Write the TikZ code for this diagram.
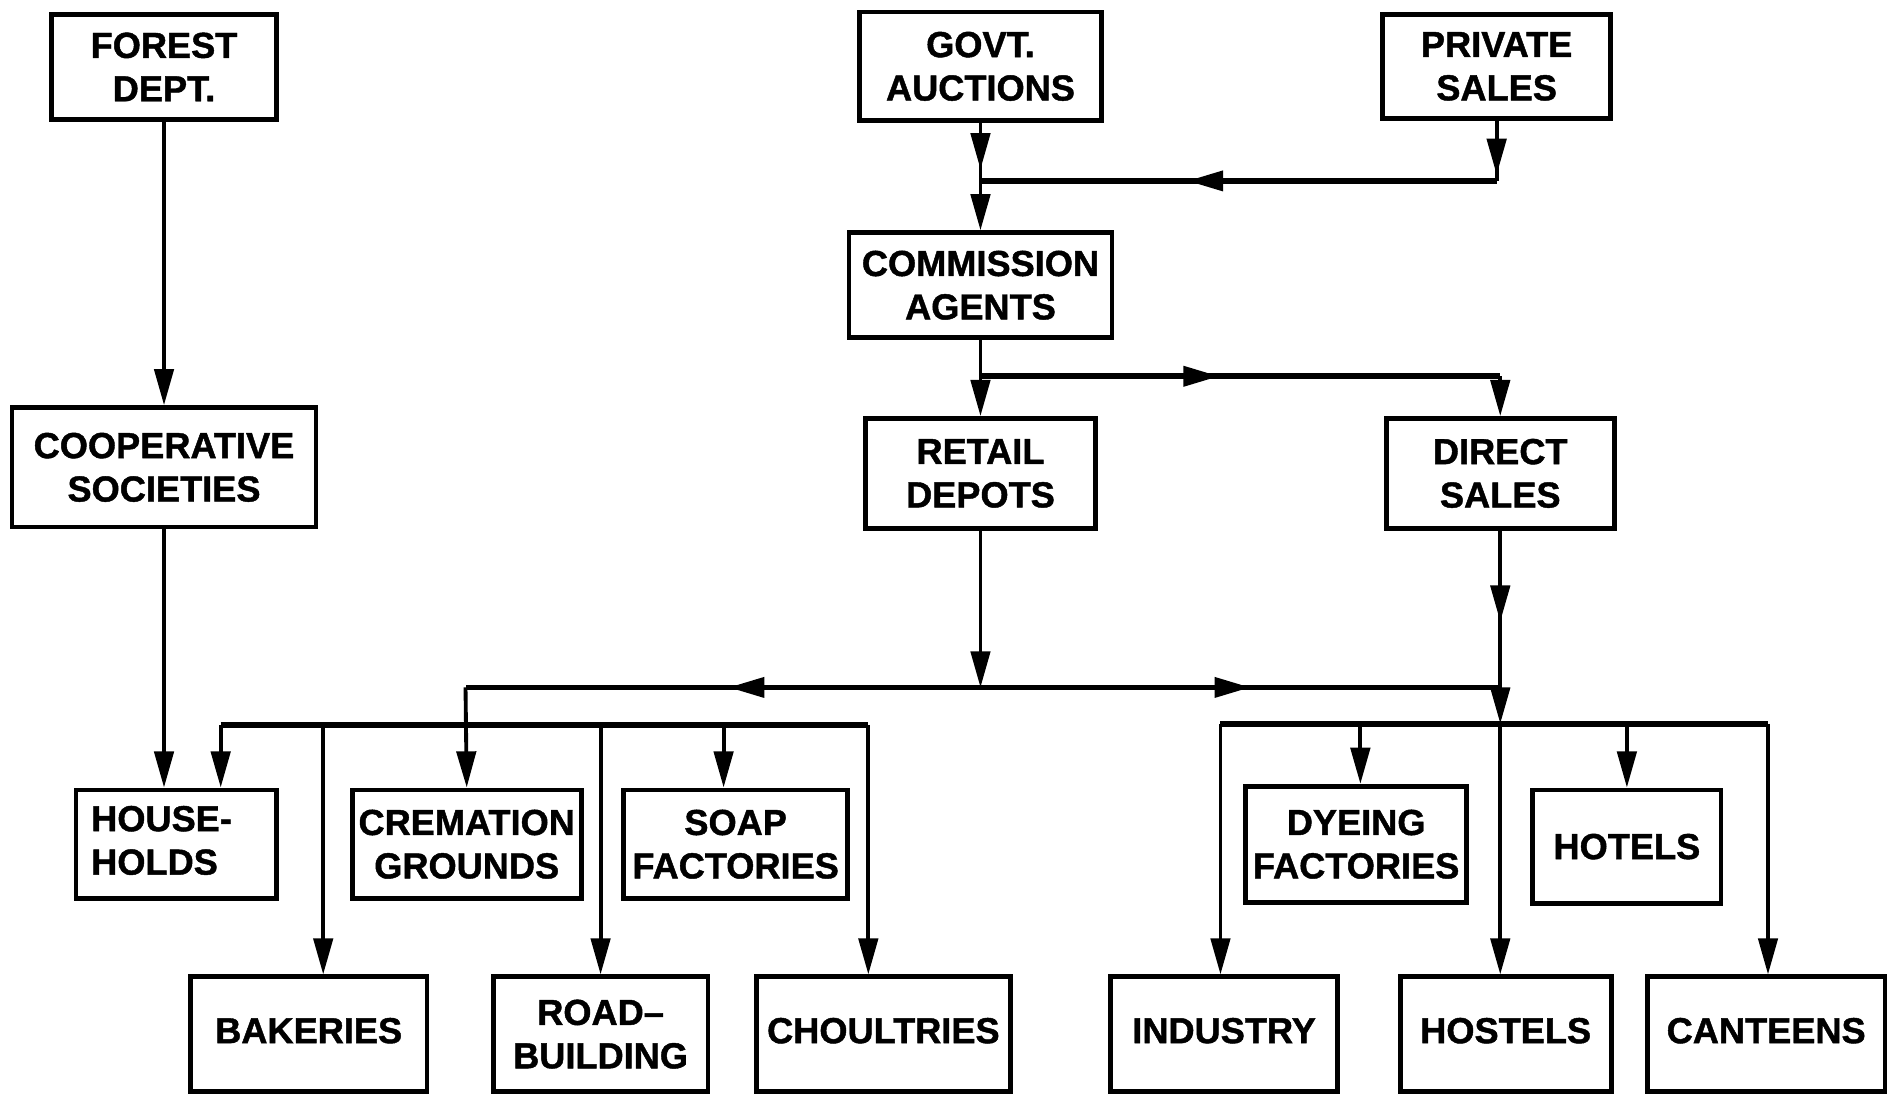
\documentclass[tikz,border=0pt]{standalone}
\usepackage{fontspec}
\setmainfont[FakeBold=1.2]{Liberation Sans}
\usetikzlibrary{arrows.meta,decorations.markings}
\tikzset{
  Tri/.tip={Triangle[length=15pt,width=8pt]},
  box/.style={draw,line width=2pt,inner sep=0pt,align=center,font=\fontsize{15}{18}\bfseries},
  conn/.style={line width=1.6pt},
  bar/.style={line width=2.4pt},
  midtip/.style={postaction={decorate},decoration={markings,mark=at position #1 with {\arrow{Tri}}}},
}
\newcommand{\upb}[1]{\raisebox{3pt}{#1}}
\begin{document}
\begin{tikzpicture}[x=0.5pt,y=-0.5pt]
\useasboundingbox (0,0) rectangle (1568,912);
% top and middle boxes
\node[box,minimum width=93pt,minimum height=43.5pt] (forest) at (136,55.5) {FOREST\\DEPT.};
\node[box,minimum width=126pt,minimum height=49.5pt] (coop) at (136,387.5) {COOPERATIVE\\SOCIETIES};
\node[box,minimum width=100pt,minimum height=45pt] (govt) at (813,55) {GOVT.\\AUCTIONS};
\node[box,minimum width=94.5pt,minimum height=43pt] (private) at (1241,55) {PRIVATE\\SALES};
\node[box,minimum width=109pt,minimum height=43.5pt] (comm) at (813,236.5) {COMMISSION\\AGENTS};
\node[box,minimum width=95.5pt,minimum height=45.5pt] (retail) at (813,392.5) {RETAIL\\DEPOTS};
\node[box,minimum width=94.5pt,minimum height=45.5pt] (direct) at (1244,392.5) {DIRECT\\SALES};
% first row of users
\node[box,minimum width=83pt,minimum height=45pt] (house) at (146,700) {\begin{tabular}{@{}l@{}}HOUSE-\\HOLDS\end{tabular}\hspace*{12pt}};
\node[box,minimum width=95pt,minimum height=45pt] (crem) at (387,700) {CREMATION\\GROUNDS};
\node[box,minimum width=93pt,minimum height=45pt] (soap) at (610,700) {SOAP\\FACTORIES};
\node[box,minimum width=91.5pt,minimum height=48pt] (dye) at (1124.5,700) {DYEING\\FACTORIES};
\node[box,minimum width=78pt,minimum height=47pt] (hotels) at (1349,702) {HOTELS};
% second row of users
\node[box,minimum width=98pt,minimum height=47.5pt] (bake) at (256,857.5) {\upb{BAKERIES}};
\node[box,minimum width=89pt,minimum height=47.5pt] (road) at (498,857.5) {ROAD--\\BUILDING};
\node[box,minimum width=105.5pt,minimum height=47.5pt] (choul) at (732.5,857.5) {\upb{CHOULTRIES}};
\node[box,minimum width=94pt,minimum height=47.5pt] (industry) at (1015,857.5) {\upb{INDUSTRY}};
\node[box,minimum width=87.5pt,minimum height=47.5pt] (hostels) at (1248.5,857.5) {\upb{HOSTELS}};
\node[box,minimum width=98.5pt,minimum height=47.5pt] (canteens) at (1464.5,857.5) {\upb{CANTEENS}};
% junction coordinates
\coordinate (j1) at (813,150);
\coordinate (p1) at (1241,150);
\coordinate (j2) at (813,312);
\coordinate (d1) at (1244,312);
\coordinate (j3) at (813,570);
\coordinate (c1) at (386,570);
\coordinate (h1) at (1244,570);
\coordinate (rbc) at (1244,600);
\coordinate (lb1) at (183,601);
\coordinate (lbB) at (268,601);
\coordinate (lbR) at (498,601);
\coordinate (lbS) at (600,601);
\coordinate (lb2) at (720,601);
\coordinate (rb1) at (1012,600);
\coordinate (rbD) at (1128,600);
\coordinate (rbH) at (1349,600);
\coordinate (rb2) at (1466,600);
% left chain
\draw[conn,-{Tri}] (forest.south) -- (coop.north);
\draw[conn,-{Tri}] (coop.south) -- (coop.south |- house.north);
% govt and private to commission agents
\draw[conn,midtip=0.8] (govt.south) -- (j1);
\draw[conn,-{Tri}] (j1) -- (comm.north);
\draw[conn,midtip=0.9] (private.south) -- (p1);
\draw[bar,midtip=0.6] (p1) -- (j1);
% commission agents to retail and direct
\draw[conn,-{Tri}] (comm.south) -- (retail.north);
\draw[bar,midtip=0.46] (j2) -- (d1);
\draw[conn,-{Tri}] (d1) -- (direct.north);
% retail depots distribution
\draw[conn,-{Tri}] (retail.south) -- (j3);
\draw[bar,midtip=0.49] (j3) -- (c1);
\draw[conn,-{Tri}] (c1) -- (crem.north);
\draw[bar,midtip=0.52] (j3) -- (h1);
% direct sales distribution
\draw[conn,midtip=0.58] (direct.south) -- (h1);
\draw[conn,-{Tri}] (h1) -- (rbc);
\draw[conn,-{Tri}] (rbc) -- (rbc |- hostels.north);
% left bar
\draw[bar] (lb1) -- (lb2);
\draw[conn,-{Tri}] (lb1) -- (lb1 |- house.north);
\draw[conn,-{Tri}] (lbB) -- (lbB |- bake.north);
\draw[conn,-{Tri}] (lbR) -- (lbR |- road.north);
\draw[conn,-{Tri}] (lbS) -- (lbS |- soap.north);
\draw[conn,-{Tri}] (lb2) -- (lb2 |- choul.north);
% right bar
\draw[bar] (rb1) -- (rb2);
\draw[conn,-{Tri}] (rb1) -- (rb1 |- industry.north);
\draw[conn,-{Tri}] (rbD) -- (rbD |- dye.north);
\draw[conn,-{Tri}] (rbH) -- (rbH |- hotels.north);
\draw[conn,-{Tri}] (rb2) -- (rb2 |- canteens.north);
\end{tikzpicture}
\end{document}
